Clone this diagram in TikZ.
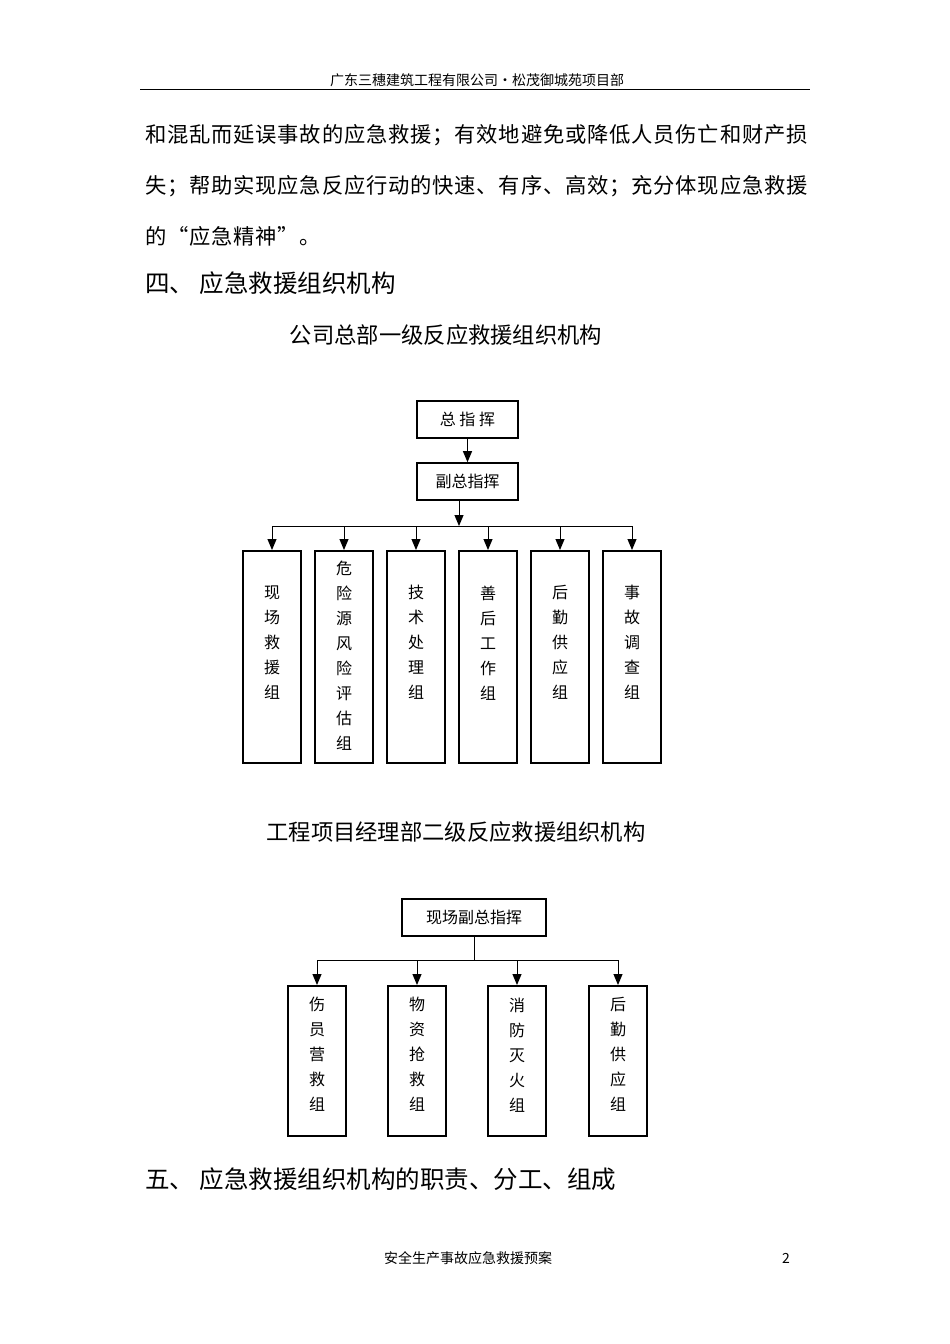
\documentclass[tikz,border=0pt]{standalone}
\usepackage{fontspec}
\setmainfont{Noto Sans CJK SC}
\newfontfamily\bodyf[LetterSpace=3.8]{Noto Sans CJK SC}
\usetikzlibrary{arrows.meta}
\begin{document}
\begin{tikzpicture}[x=1pt,y=-1pt,
  bx/.style={draw,line width=1.6pt,inner sep=0pt,font=\fontsize{16}{25}\selectfont},
  vt/.style={font=\fontsize{16}{25}\selectfont,align=center,anchor=north},
  ar/.style={-{Triangle[length=11pt,width=9pt]},line width=1pt},
  ln/.style={line width=1pt},
  body/.style={font=\bodyf\fontsize{21.3}{24}\selectfont,anchor=west,inner sep=0pt}]
\useasboundingbox (0,0) rectangle (950,1344);
\node[font=\fontsize{14}{16}\selectfont] (hdr) at (477,80) {广东三穗建筑工程有限公司•松茂御城苑项目部};
\draw[line width=0.8pt] (140,89) -- (810,89);
\node[body] (l1) at (145,135) {和混乱而延误事故的应急救援；有效地避免或降低人员伤亡和财产损};
\node[body] (l2) at (145,186) {失；帮助实现应急反应行动的快速、有序、高效；充分体现应急救援};
\node[body] (l3) at (145,236) {的“应急精神”。};
\node[font=\fontsize{24.5}{26}\selectfont,anchor=west,inner sep=0pt] (s4) at (145,283) {四、 应急救援组织机构};
\node[font=\fontsize{22.3}{24}\selectfont] (t1) at (446,335) {公司总部一级反应救援组织机构};
% chart 1
\node[bx,minimum width=101pt,minimum height=37pt] (zz) at (467.5,419.5) {总\ 指\ 挥};
\node[bx,minimum width=101pt,minimum height=37pt] (fz) at (467.5,481.5) {副总指挥};
\draw[ar] (zz) -- (fz);
\coordinate (j1) at (459,526);
\draw[ar] (fz.south -| j1) -- (j1);
\draw[ln] (272,526) -- (632,526);
\foreach \i/\x/\t/\ty in {1/272/现\\场\\救\\援\\组/582, 2/344/危\\险\\源\\风\\险\\评\\估\\组/557, 3/416/技\\术\\处\\理\\组/582, 4/488/善\\后\\工\\作\\组/582, 5/560/后\\勤\\供\\应\\组/582, 6/632/事\\故\\调\\查\\组/582}{
  \node[bx,minimum width=58pt,minimum height=212pt,anchor=north] (b\i) at (\x,550) {};
  \node[vt] (bt\i) at (\x,\ty) {\t};
  \draw[ar] (\x,526) -- (b\i.north);
}
\node[font=\fontsize{22.3}{24}\selectfont] (t2) at (456,832) {工程项目经理部二级反应救援组织机构};
% chart 2
\node[bx,minimum width=144pt,minimum height=37pt] (xf) at (474,917.5) {现场副总指挥};
\coordinate (j2) at (474,960);
\draw[ln] (xf) -- (j2);
\draw[ln] (317,960) -- (618,960);
\foreach \i/\x/\t in {1/317/伤\\员\\营\\救\\组, 2/417/物\\资\\抢\\救\\组, 3/517/消\\防\\灭\\火\\组, 4/618/后\\勤\\供\\应\\组}{
  \node[bx,minimum width=58pt,minimum height=150pt,anchor=north] (c\i) at (\x,985) {};
  \node[vt] (ct\i) at (\x,994) {\t};
  \draw[ar] (\x,960) -- (c\i.north);
}
\node[font=\fontsize{24.5}{26}\selectfont,anchor=west,inner sep=0pt] (s5) at (145,1179) {五、 应急救援组织机构的职责、分工、组成};
\node[font=\fontsize{14}{16}\selectfont] (ft) at (468,1258) {安全生产事故应急救援预案};
\node[font=\fontsize{14}{16}\selectfont] (pg) at (786,1258) {2};
\end{tikzpicture}
\end{document}
